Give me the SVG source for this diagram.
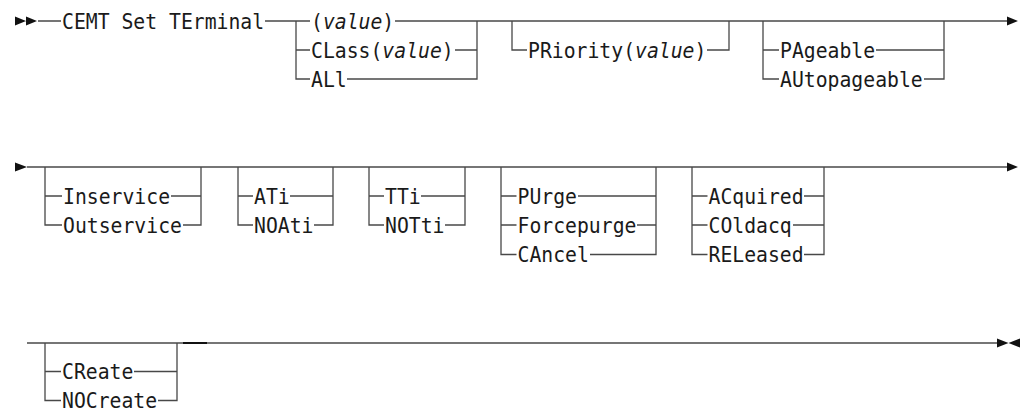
<svg xmlns="http://www.w3.org/2000/svg" width="1021" height="411" viewBox="0 0 1021 411">
<style>
.t{font-family:"DejaVu Sans Mono","Liberation Mono",monospace;font-size:21.3px;fill:#1a1a1a}
.i{font-style:italic}
.c{fill:none;stroke:#484848;stroke-width:1.3}
.a{fill:#111;stroke:none}
</style>
<rect width="1021" height="411" fill="#fff"/>
<g id="connectors">
<path class="c" d="M38 21H61M265 21H310M395 21H1007"/>
<path class="c" d="M296 21V79H310M296 50H310M347 79H477V21M455 50H477"/>
<path class="c" d="M512 21V50H527M707 50H729V21"/>
<path class="c" d="M763 21V79H779M763 50H779M876 50H944M924 79H944V21"/>
<path class="a" d="M15 16.5L26 21L15 25.5ZM26 16.5L37 21L26 25.5ZM1007 16.5L1018 21L1007 25.5Z"/>
<path class="c" d="M27 167H1007"/>
<path class="c" d="M45 167V225H62M45 196H62M171 196H201M183 225H201V167"/>
<path class="c" d="M238 167V225H253M238 196H253M290 196H333M314 225H333V167"/>
<path class="c" d="M369 167V225H384M369 196H384M421 196H465M445 225H465V167"/>
<path class="c" d="M501 167V254.5H516.5M501 196H516.5M501 225H516.5M578 196H656M637 225H656M590 254.5H656V167"/>
<path class="c" d="M692 167V254.5H707.5M692 196H707.5M692 225H707.5M804 196H824M793 225H824M804 254.5H824V167"/>
<path class="a" d="M15 162.5L27 167L15 171.5ZM1007 162.5L1018 167L1007 171.5Z"/>
<path class="c" d="M27 343H997"/>
<path class="c" d="M45 343V400.5H61M45 371.5H61M134 371.5H177M158 400.5H177V343"/>
<path d="M183 343H207" stroke="#111" stroke-width="2"/>
<path class="a" d="M997 338.5L1008.5 343L997 347.5ZM1020 338.5L1008.5 343L1020 347.5Z"/>
</g>
<g id="cmd"><text class="t" transform="translate(62 28.8) scale(0.928 1)">CEMT Set TErminal</text></g>
<g id="value"><text class="t" transform="translate(311 28.8) scale(0.928 1)">(<tspan class="i">value</tspan>)</text></g>
<g id="class"><text class="t" transform="translate(311 57.8) scale(0.928 1)">CLass(<tspan class="i">value</tspan>)</text></g>
<g id="all"><text class="t" transform="translate(311 86.8) scale(0.928 1)">ALl</text></g>
<g id="priority"><text class="t" transform="translate(528 57.8) scale(0.928 1)">PRiority(<tspan class="i">value</tspan>)</text></g>
<g id="pageable"><text class="t" transform="translate(780 57.8) scale(0.928 1)">PAgeable</text></g>
<g id="autopageable"><text class="t" transform="translate(780 86.8) scale(0.928 1)">AUtopageable</text></g>
<g id="inservice"><text class="t" transform="translate(63 203.8) scale(0.928 1)">Inservice</text></g>
<g id="outservice"><text class="t" transform="translate(63 233.1) scale(0.928 1)">Outservice</text></g>
<g id="ati"><text class="t" transform="translate(254 203.8) scale(0.928 1)">ATi</text></g>
<g id="noati"><text class="t" transform="translate(254 233.1) scale(0.928 1)">NOAti</text></g>
<g id="tti"><text class="t" transform="translate(385 203.8) scale(0.928 1)">TTi</text></g>
<g id="notti"><text class="t" transform="translate(385 233.1) scale(0.928 1)">NOTti</text></g>
<g id="purge"><text class="t" transform="translate(517.5 203.8) scale(0.928 1)">PUrge</text></g>
<g id="forcepurge"><text class="t" transform="translate(517.5 233.1) scale(0.928 1)">Forcepurge</text></g>
<g id="cancel"><text class="t" transform="translate(517.5 262.3) scale(0.928 1)">CAncel</text></g>
<g id="acquired"><text class="t" transform="translate(708.5 203.8) scale(0.928 1)">ACquired</text></g>
<g id="coldacq"><text class="t" transform="translate(708.5 233.1) scale(0.928 1)">COldacq</text></g>
<g id="released"><text class="t" transform="translate(708.5 262.3) scale(0.928 1)">RELeased</text></g>
<g id="create"><text class="t" transform="translate(62 379.3) scale(0.928 1)">CReate</text></g>
<g id="nocreate"><text class="t" transform="translate(62 407.8) scale(0.928 1)">NOCreate</text></g>
</svg>
